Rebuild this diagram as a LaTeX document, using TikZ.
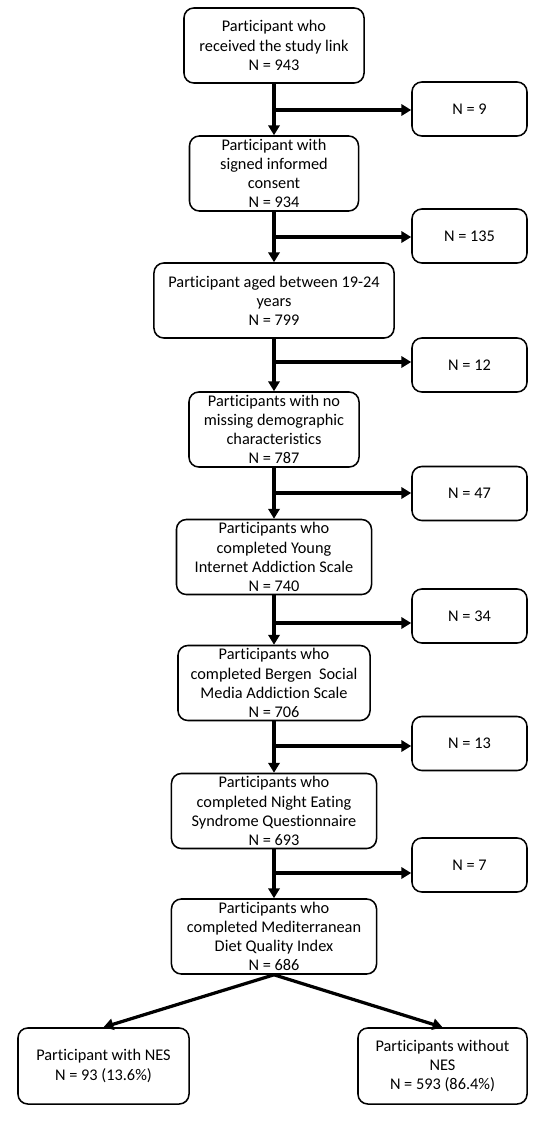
\documentclass[tikz,border=0pt]{standalone}
\usepackage{fontspec}
\setmainfont[Ligatures=NoCommon]{Carlito}
\usetikzlibrary{arrows.meta}
\begin{document}
\begin{tikzpicture}[x=0.025cm,y=-0.025cm,
  box/.style={draw,rounded corners=7pt,line width=1.1pt,align=center,inner sep=0pt,
    minimum height=1.875cm,font=\fontsize{11.6}{13.6}\selectfont},
  side/.style={box,minimum width=2.875cm,minimum height=1.35cm},
  flow/.style={line width=2.3pt,-{Triangle[length=7pt,width=8pt]}}]
  \useasboundingbox (0,0) rectangle (545,1130);
  % main column
  \node[box,minimum width=4.5cm]   (recv)    at (274,45.5)  {Participant who\\received the study link\\N = 943};
  \node[box,minimum width=4.225cm] (consent) at (274,173.5) {Participant with\\signed informed\\consent\\N = 934};
  \node[box,minimum width=6cm]     (aged)    at (274,300.5) {Participant aged between 19-24\\years\\N = 799};
  \node[box,minimum width=4.25cm]  (demo)    at (274,429.5) {Participants with no\\missing demographic\\characteristics\\N = 787};
  \node[box,minimum width=4.875cm] (young)   at (274,557)   {Participants who\\completed Young\\Internet Addiction Scale\\N = 740};
  \node[box,minimum width=4.8cm]   (bergen)  at (274,683)   {Participants who\\completed Bergen\ \ Social\\Media Addiction Scale\\N = 706};
  \node[box,minimum width=5.125cm] (night)   at (274,811)   {Participants who\\completed Night Eating\\Syndrome Questionnaire\\N = 693};
  \node[box,minimum width=5.125cm] (diet)    at (274,936.5) {Participants who\\completed Mediterranean\\Diet Quality Index\\N = 686};
  \draw[flow] (recv) -- (consent);
  \draw[flow] (consent) -- (aged);
  \draw[flow] (aged) -- (demo);
  \draw[flow] (demo) -- (young);
  \draw[flow] (young) -- (bergen);
  \draw[flow] (bergen) -- (night);
  \draw[flow] (night) -- (diet);
  % excluded
  \foreach \i/\y/\yb/\n in {1/109/110/9, 2/236/237/135, 3/365/362/12, 4/493.5/493/47,
      5/616/623/34, 6/743.5/746/13, 7/865/873/7} {
    \node[side] (ex\i) at (469.5,\y) {N = \n};
    \coordinate (b\i) at (274,\yb);
    \draw[flow] (b\i) -- (b\i -| ex\i.west);
  }
  % groups
  \node[box,minimum width=4.275cm,minimum height=1.9cm] (nes)   at (103.5,1066) {Participant with NES\\N = 93 (13.6\%)};
  \node[box,minimum width=4.225cm,minimum height=1.9cm] (nonnes) at (442.5,1066) {Participants without\\NES\\N = 593 (86.4\%)};
  \draw[flow] (diet.south) -- (nes.north);
  \draw[flow] (diet.south) -- (nonnes.north);
\end{tikzpicture}
\end{document}
